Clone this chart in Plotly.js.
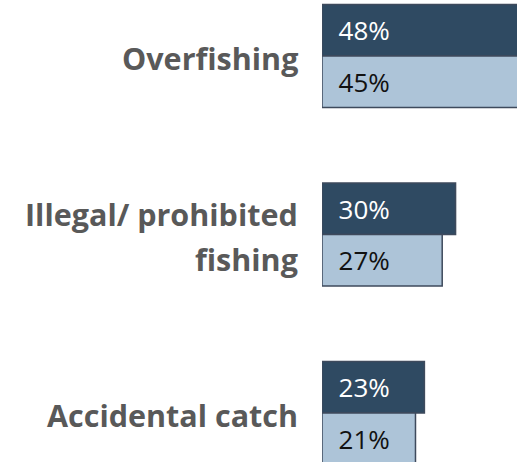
<!DOCTYPE html>
<html>
<head>
<meta charset="utf-8">
<script src="https://cdn.plot.ly/plotly-3.0.1.min.js"></script>
<style>html,body{margin:0;padding:0;background:#fff;}#chart{width:517px;height:462px;}</style>
</head>
<body>
<div id="chart"></div>
<script>
var categories = ['Overfishing', 'Illegal/ prohibited<br>fishing', 'Accidental catch'];
var seriesNames = ['Series A', 'Series B'];
var seriesA = [48, 30, 23];
var seriesB = [45, 27, 21];

var darkColor = '#2f4a62';
var lightColor = '#adc4d8';
var edgeColor = '#3e4a5c';

function labels(vals) { return vals.map(function (v) { return '\u00a0\u00a0' + v + '%'; }); }

var traces = [
  {
    type: 'bar', orientation: 'h', name: seriesNames[0],
    y: categories, x: seriesA, text: labels(seriesA),
    textposition: 'inside', insidetextanchor: 'start', textangle: 0, constraintext: 'none',
    textfont: {family: 'Open Sans', size: 26, color: '#ffffff'},
    marker: {color: darkColor, line: {color: edgeColor, width: 1.5}},
    hoverinfo: 'skip'
  },
  {
    type: 'bar', orientation: 'h', name: seriesNames[1],
    y: categories, x: seriesB, text: labels(seriesB),
    textposition: 'inside', insidetextanchor: 'start', textangle: 0, constraintext: 'none',
    textfont: {family: 'Open Sans', size: 26, color: '#111111'},
    marker: {color: lightColor, line: {color: edgeColor, width: 1.5}},
    hoverinfo: 'skip'
  }
];

var annotations = [];
categories.forEach(function (cat) {
  var lines = cat.split('<br>');
  var n = lines.length;
  lines.forEach(function (line, j) {
    annotations.push({
      xref: 'paper', x: 0, xanchor: 'right', xshift: -22,
      yref: 'y', y: cat, yanchor: 'middle', yshift: -2 - (j - (n - 1) / 2) * 45,
      text: line, showarrow: false,
      font: {family: 'Open Sans', size: 30.5, color: '#595959', weight: 'bold'}
    });
  });
});

var layout = {
  width: 517, height: 462,
  margin: {l: 322, r: 0, t: 0, b: 0},
  paper_bgcolor: '#ffffff', plot_bgcolor: '#ffffff',
  barmode: 'group', bargap: 0.423, bargroupgap: 0,
  showlegend: false,
  xaxis: {range: [0, 43.8], visible: false, fixedrange: true},
  yaxis: {type: 'category', range: [2.2745, -0.3137], showticklabels: false, showgrid: false, zeroline: false, showline: false, ticks: '', fixedrange: true},
  annotations: annotations
};

Plotly.newPlot('chart', traces, layout, {displayModeBar: false, staticPlot: true});
</script>
</body>
</html>
